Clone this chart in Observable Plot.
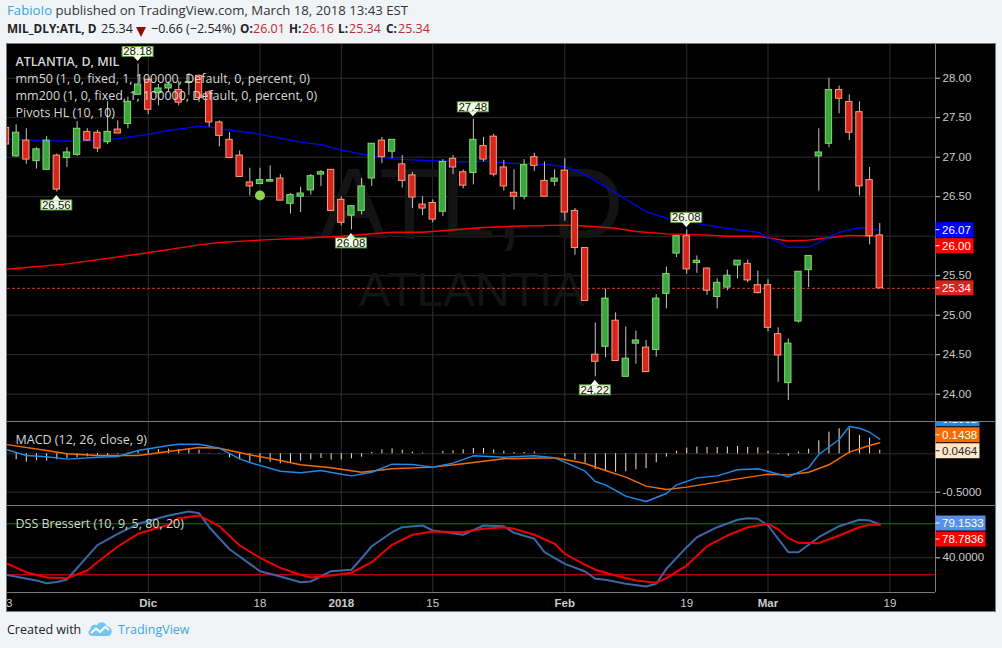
<!DOCTYPE html>
<html><head><meta charset="utf-8">
<script src="https://cdn.jsdelivr.net/npm/d3@7"></script>
<script src="https://cdn.jsdelivr.net/npm/@observablehq/plot@0.6"></script>
<style>
body{margin:0;background:#f1f4f7;width:1002px;height:648px;overflow:hidden;position:relative;font-family:"Open Sans",sans-serif}
.abs{position:absolute;white-space:nowrap}
.frame{position:absolute;left:6px;top:43px;width:988px;height:567px;border:1px solid #7a7a7a;background:#000}
.pane{position:absolute;left:7px;width:988px;overflow:hidden}
.pane svg{position:absolute;left:-7px;top:0;overflow:visible;max-width:none !important;width:1002px !important}
.sep{position:absolute;background:#7a7a7a}
.h2{position:absolute;top:20px;font-size:12.5px;line-height:17px;color:#222;white-space:nowrap}
.red{color:#c0282d}
</style></head><body>
<div class="abs" style="left:7px;top:1px;font-size:13.2px;line-height:18px;color:#333"><span style="color:#3aa3db">FabioIo</span> published on TradingView.com, March 18, 2018 13:43 EST</div>
<div class="h2" style="left:7px;font-weight:700;font-size:11.8px">MIL_DLY:ATL, D</div>
<div class="h2" style="left:101px">25.34</div>
<svg class="abs" style="left:136px;top:27px" width="10" height="10"><polygon points="0,0 10,0 5,10" fill="#8e0b0b"/></svg>
<div class="h2" style="left:151px">−0.66 (−2.54%)</div>
<div class="h2" style="left:240px;font-weight:700;font-size:11.8px">O:</div><div class="h2 red" style="left:253px">26.01</div>
<div class="h2" style="left:289px;font-weight:700;font-size:11.8px">H:</div><div class="h2 red" style="left:302px">26.16</div>
<div class="h2" style="left:338px;font-weight:700;font-size:11.8px">L:</div><div class="h2 red" style="left:349px">25.34</div>
<div class="h2" style="left:386px;font-weight:700;font-size:11.8px">C:</div><div class="h2 red" style="left:398px">25.34</div>

<div class="frame"></div>
<div class="sep" style="left:7px;top:421px;width:988px;height:1px"></div>
<div class="sep" style="left:7px;top:505px;width:988px;height:1px"></div>
<div class="sep" style="left:7px;top:592px;width:928px;height:1px"></div>
<div class="sep" style="left:935px;top:44px;width:1px;height:548px"></div>
<div class="pane" id="pPrice" style="top:44px;height:377px"></div>
<div class="pane" id="pMacd" style="top:422px;height:83px"></div>
<div class="pane" id="pDss" style="top:506px;height:104px"></div>

<div class="abs" style="left:7px;top:621px;font-size:12.5px;line-height:18px;color:#222">Created with</div>
<svg class="abs" style="left:87px;top:620px" width="26" height="17" viewBox="0 0 26 17">
<path d="M6 16 C1 16 0 11 3.5 9.5 C3 5 8 3.5 10 5.5 C11.5 1 19 1 19.5 6.5 C24 6.5 26 11 24 14 C23 15.5 22 16 20 16 Z" fill="#71c5ee"/>
<polyline points="4,13 9,8.5 13,12 18,7 22,10" fill="none" stroke="#fff" stroke-width="2"/>
</svg>
<div class="abs" style="left:118px;top:621px;font-size:12.5px;line-height:18px;color:#3ea5dc">TradingView</div>

<script>
// ---------- DATA ----------
const candleOpen  = [27.37,27.01,27.21,26.95,26.84,27.02,26.99,27.03,27.32,27.31,27.19,27.35,27.42,27.79,27.98,27.81,27.87,27.85,27.94,28.03,27.82,27.44,27.22,27.02,26.68,26.66,26.69,26.73,26.41,26.50,26.58,26.78,26.84,26.46,26.26,26.32,26.73,27.21,27.07,26.91,26.77,26.40,26.42,26.31,26.98,26.81,26.80,27.14,27.26,26.87,26.55,26.50,27.00,26.70,26.69,26.83,26.32,25.85,24.50,24.60,24.93,24.22,24.64,24.59,24.56,25.27,25.78,26.00,25.66,25.59,25.23,25.35,25.63,25.65,25.38,25.38,24.76,24.14,24.92,25.57,27.01,27.17,27.85,27.70,27.57,26.71,26.01];
const candleHigh  = [27.42,27.41,27.36,27.12,27.26,27.04,27.12,27.45,27.36,27.34,27.70,27.46,27.76,28.18,28.00,27.92,27.95,27.96,28.06,28.04,27.84,27.46,27.31,27.08,26.86,26.86,26.89,26.78,26.54,26.62,26.78,26.83,26.84,26.50,26.38,26.73,27.17,27.25,27.22,27.02,26.81,26.50,26.46,26.97,27.02,26.84,27.48,27.25,27.29,26.96,26.84,26.97,27.05,26.94,26.84,26.98,26.35,25.85,24.90,25.33,25.03,24.85,24.80,24.68,25.26,25.61,26.00,26.08,25.75,25.60,25.46,25.57,25.69,25.70,25.56,25.45,24.84,24.70,25.55,25.75,27.36,28.00,27.90,27.79,27.70,26.87,26.16];
const candleLow   = [27.10,27.00,26.91,26.85,26.84,26.56,26.87,27.01,27.20,27.06,27.16,27.30,27.36,27.78,27.54,27.65,27.83,27.65,27.78,27.69,27.38,27.13,26.99,26.75,26.51,26.66,26.69,26.45,26.28,26.30,26.52,26.63,26.31,26.13,26.08,26.27,26.63,26.92,26.98,26.61,26.35,26.26,26.17,26.25,26.78,26.60,26.65,26.94,26.75,26.57,26.33,26.46,26.82,26.50,26.63,26.19,25.76,25.18,24.22,24.46,24.42,24.22,24.38,24.28,24.47,25.08,25.73,25.52,25.53,25.25,25.08,25.31,25.46,25.41,25.27,24.79,24.15,23.92,24.90,25.35,26.57,27.12,27.55,27.21,26.51,25.89,25.34];
const candleClose = [27.16,27.31,26.97,27.10,27.21,26.59,27.06,27.36,27.21,27.11,27.32,27.30,27.70,27.92,27.60,27.87,27.92,27.69,27.95,27.75,27.44,27.27,26.99,26.75,26.63,26.71,26.71,26.45,26.52,26.54,26.76,26.81,26.32,26.17,26.38,26.63,27.17,27.00,27.22,26.70,26.49,26.35,26.21,26.94,26.87,26.64,27.22,26.97,26.78,26.63,26.50,26.90,26.89,26.50,26.73,26.30,25.85,25.18,24.41,25.21,24.42,24.45,24.68,24.28,25.21,25.52,26.00,25.58,25.69,25.31,25.41,25.50,25.69,25.44,25.28,24.84,24.49,24.64,25.55,25.75,27.06,27.85,27.74,27.31,26.63,26.00,25.34];

// moving averages [bar index, value]
const mm50  = [[0,27.23],[4,27.21],[7,27.20],[10,27.22],[14,27.29],[16,27.34],[19,27.39],[20,27.38],[25,27.29],[29,27.19],[31,27.16],[33,27.09],[35,27.04],[38,26.98],[41,26.96],[45,26.94],[47,26.95],[50,26.92],[53,26.91],[55,26.88],[57,26.78],[59,26.63],[61,26.47],[63,26.31],[65,26.23],[67,26.22],[68,26.16],[71,26.10],[74,26.05],[75,25.98],[77,25.86],[79,25.86],[80,25.92],[82,26.05],[84,26.11],[85,26.10],[86,26.07]];
const mm200 = [[0,25.58],[6,25.65],[14,25.79],[19,25.89],[21,25.92],[25,25.95],[33,26.00],[38,26.05],[41,26.05],[47,26.11],[51,26.13],[55,26.14],[57,26.13],[60,26.10],[62,26.06],[65,26.03],[68,26.02],[71,26.00],[74,26.00],[77,25.94],[79,25.95],[81,25.98],[83,26.01],[86,26.00]];

// pivots HL
const pivotIndex = [5,13,34,46,58,67];
const pivotValue = [26.56,28.18,26.08,27.48,24.22,26.08];
const pivotType  = ["low","high","low","high","low","high"];
const signalDots = [[25,26.515]];

// MACD (12,26,close,9)
const macdLine = [[0,0.056],[2,-0.022],[4,-0.039],[6,-0.07],[9,-0.044],[11,-0.035],[13,0.043],[16,0.108],[17,0.125],[19,0.125],[21,0.073],[23,-0.065],[24,-0.113],[27,-0.227],[29,-0.247],[31,-0.217],[33,-0.266],[34,-0.287],[36,-0.24],[38,-0.135],[40,-0.14],[42,-0.174],[44,-0.122],[46,-0.026],[49,-0.044],[52,-0.026],[54,-0.052],[55,-0.109],[57,-0.227],[58,-0.361],[59,-0.404],[61,-0.552],[63,-0.621],[65,-0.517],[66,-0.404],[68,-0.313],[70,-0.287],[72,-0.208],[74,-0.195],[75,-0.227],[77,-0.3],[79,-0.182],[80,-0.009],[82,0.186],[83,0.355],[84,0.333],[85,0.281],[86,0.1902]];
const macdSignal = [[0,0.121],[4,0.043],[6,0],[9,-0.022],[13,-0.022],[16,0.03],[19,0.082],[21,0.073],[24,-0.013],[27,-0.087],[29,-0.143],[32,-0.182],[35,-0.24],[38,-0.195],[42,-0.174],[45,-0.13],[49,-0.065],[54,-0.052],[55,-0.074],[57,-0.126],[59,-0.217],[61,-0.304],[63,-0.421],[65,-0.465],[67,-0.434],[70,-0.369],[72,-0.326],[75,-0.266],[77,-0.274],[79,-0.24],[81,-0.143],[83,0.021],[85,0.108],[86,0.1438]];
const macdHist = [-0.06,-0.078,-0.109,-0.091,-0.095,-0.078,-0.065,-0.052,-0.039,-0.03,-0.022,-0.009,0.01,0.043,0.052,0.056,0.06,0.056,0.065,0.048,0.005,-0.005,-0.052,-0.082,-0.109,-0.117,-0.109,-0.13,-0.122,-0.095,-0.082,-0.061,-0.082,-0.078,-0.065,-0.043,0.017,0.052,0.065,0.048,0.022,0.009,0.002,0.03,0.039,0.052,0.069,0.069,0.052,0.035,0.017,0.017,0.022,0.004,-0.002,-0.039,-0.082,-0.122,-0.204,-0.217,-0.239,-0.234,-0.208,-0.195,-0.117,-0.043,0.035,0.074,0.087,0.082,0.082,0.087,0.095,0.082,0.078,0.035,-0.013,-0.03,0.022,0.06,0.169,0.282,0.326,0.326,0.239,0.204,0.0464];

// DSS Bressert (10,9,5,80,20)
const dssLine = [[0,20],[3,13.3],[4,10.1],[5,11.5],[6,14.5],[7,28],[9,55],[11,68.2],[13,80],[16,89.8],[18,94.5],[19,92.5],[20,76],[22,50],[24,32.9],[25,24.2],[27,18],[29,11.3],[30,12.1],[32,24.2],[34,25.9],[35,39.5],[36,53.6],[38,70.1],[39,76],[41,78],[42,72.1],[45,67.1],[47,78],[49,77],[50,69.4],[52,62.4],[53,46.6],[55,32.9],[57,23.9],[58,15.3],[59,14.1],[61,9.4],[63,6.2],[64,9.4],[65,27.1],[67,52.5],[68,64.2],[70,76],[72,84.7],[73,86.6],[74,85.9],[75,78],[77,46.6],[78,46.6],[80,64.2],[82,77.2],[84,84.7],[85,83.9],[86,79.1533]];
const dssSignal = [[0,33.6],[2,23.1],[4,16.8],[6,16],[8,25.1],[9,34.8],[11,53.3],[13,68.2],[16,78.8],[17,86.6],[19,89.8],[21,77.2],[23,54.5],[25,40],[27,28.2],[29,20],[30,16.8],[32,19.2],[34,22.4],[36,34.8],[38,55.3],[40,67.1],[42,70.9],[45,70.1],[47,74.1],[49,76],[50,74.1],[52,67.1],[54,56.5],[55,44.7],[57,31.8],[58,26],[60,19.2],[62,13.3],[64,10.6],[65,16],[67,30.9],[69,53.6],[71,66.2],[73,76],[75,80],[76,73.3],[77,63.1],[78,57.6],[80,57.2],[82,66.2],[84,76],[85,78.8],[86,78.7836]];

// axes
const timeTickIndex = [0,14,25,33,42,55,67,75,87];
const timeTickLabel = ["13","Dic","18","2018","15","Feb","19","Mar","19"];
const timeTickBold  = [false,true,false,true,false,true,false,true,false];
const priceTicks = [24,24.5,25,25.5,26,26.5,27,27.5,28];
const priceLabelTicks = [24,24.5,25,25.5,26.5,27,27.5,28]; // 26.00 hidden under tags
const macdGrid = [-0.5,0];
const macdTicks = [-0.5];
const dssTicks = [40];
const lastClose = candleClose[candleClose.length-1];

// ---------- BUILD ----------
const GRID = "#2e2e2e";
const AX = "Liberation Sans, Arial, sans-serif";
const LEG = "Open Sans, sans-serif";
const X = {domain:[0,87], range:[5.5,889.42], axis:null};
const base = (h, mb) => ({width:1002, height:h, marginLeft:7, marginRight:67, marginTop:0, marginBottom:mb,
  style:{background:"transparent", color:"#cccccc", fontFamily:AX, fontSize:"11px", overflow:"visible"}});
const candles = candleOpen.map((o,i)=>({i, o, h:candleHigh[i], l:candleLow[i], c:candleClose[i]}));
const up = candles.filter(d=>d.c>=d.o), down = candles.filter(d=>d.c<d.o);
const ticksT = timeTickIndex.map((i,k)=>({i, label:timeTickLabel[k], bold:timeTickBold[k]}));
const legend = (t, dy, bold) => Plot.text([t], {text:d=>d, frameAnchor:"top-left", textAnchor:"start", lineAnchor:"bottom", dx:8, dy, fill:"#d6d6d6", fontSize:12.5, fontFamily:LEG, fontWeight: bold?600:400});

const price = Plot.plot({...base(377,0),
  x:X, y:{domain:[24,28], range:[349.7,33.7], axis:null},
  marks:[
    Plot.gridX(timeTickIndex, {stroke:GRID, strokeOpacity:1}),
    Plot.gridY(priceTicks, {stroke:GRID, strokeOpacity:1}),
    Plot.text(["ATL, D"], {text:d=>d, frameAnchor:"middle", lineAnchor:"bottom", dy:4.5, fontSize:100, fill:"#141414", fontFamily:AX}),
    Plot.text(["ATLANTIA"], {text:d=>d, frameAnchor:"middle", lineAnchor:"bottom", dy:72.5, fontSize:48, fill:"#141414", fontFamily:AX}),
    Plot.ruleY([lastClose], {stroke:"#e0302a", strokeDasharray:"3,2", strokeWidth:1}),
    Plot.line(mm200, {x:d=>d[0], y:d=>d[1], stroke:"#ff0000", strokeWidth:1.4, clip:true}),
    Plot.line(mm50, {x:d=>d[0], y:d=>d[1], stroke:"#0000ff", strokeWidth:1.3, clip:true}),
    Plot.ruleX(candles, {x:"i", y1:"l", y2:"h", stroke:"#c4c4c4", strokeWidth:1, clip:true}),
    Plot.rect(up, {x1:d=>d.i-0.31, x2:d=>d.i+0.31, y1:"o", y2:"c", fill:"#3da443", stroke:"#80dc68", strokeWidth:1, clip:true}),
    Plot.rect(down, {x1:d=>d.i-0.31, x2:d=>d.i+0.31, y1:"o", y2:"c", fill:"#d6241e", stroke:"#f6a17b", strokeWidth:1, clip:true}),
    Plot.dot(signalDots, {x:d=>d[0], y:d=>d[1], r:5, fill:"#8fd24f", stroke:"none"}),
    Plot.axisY(priceLabelTicks, {anchor:"right", tickSize:4, tickPadding:3, tickFormat:d=>d.toFixed(2), color:"#cccccc", fontSize:11.5}),
    legend("ATLANTIA, D, MIL", 21, true),
    legend("mm50 (1, 0, fixed, 1, 100000, Default, 0, percent, 0)", 38),
    legend("mm200 (1, 0, fixed, 1, 100000, Default, 0, percent, 0)", 55),
    legend("Pivots HL (10, 10)", 72)
  ]});

const macd = Plot.plot({...base(83,0),
  x:X, y:{domain:[-0.5,0], range:[69.7,31.3], axis:null},
  marks:[
    Plot.gridX(timeTickIndex, {stroke:GRID, strokeOpacity:1}),
    Plot.gridY(macdGrid, {stroke:GRID, strokeOpacity:1}),
    Plot.ruleX(macdHist.map((v,i)=>[i,v]), {x:d=>d[0], y1:0, y2:d=>d[1], stroke:"#ffe2c4", strokeWidth:1, clip:true}),
    Plot.line(macdSignal, {x:d=>d[0], y:d=>d[1], stroke:"#f26c00", strokeWidth:1.4, clip:true}),
    Plot.line(macdLine, {x:d=>d[0], y:d=>d[1], stroke:"#1f8ae8", strokeWidth:1.4, clip:true}),
    Plot.axisY(macdTicks, {anchor:"right", tickSize:4, tickPadding:3, tickFormat:d=>d.toFixed(4), color:"#cccccc", fontSize:11.5}),
    legend("MACD (12, 26, close, 9)", 21.5)
  ]});

const dss = Plot.plot({...base(104,18),
  x:X, y:{domain:[0,100], range:[85.3,0.3], axis:null},
  marks:[
    Plot.gridX(timeTickIndex, {stroke:GRID, strokeOpacity:1}),
    Plot.gridY([40], {stroke:GRID, strokeOpacity:1}),
    Plot.ruleY([80], {stroke:"#008000", strokeWidth:1}),
    Plot.ruleY([20], {stroke:"#ff0000", strokeWidth:1}),
    Plot.line(dssLine, {x:d=>d[0], y:d=>d[1], stroke:"#3b67a6", strokeWidth:2, clip:true}),
    Plot.line(dssSignal, {x:d=>d[0], y:d=>d[1], stroke:"#ee0000", strokeWidth:2, clip:true}),
    Plot.axisY(dssTicks, {anchor:"right", tickSize:4, tickPadding:3, tickFormat:d=>d.toFixed(4), color:"#cccccc", fontSize:11.5}),
    Plot.text(ticksT.filter(d=>!d.bold), {x:"i", text:"label", frameAnchor:"bottom", lineAnchor:"bottom", dy:14.5, fill:"#cccccc", fontSize:11.5, fontFamily:AX}),
    Plot.text(ticksT.filter(d=>d.bold), {x:"i", text:"label", frameAnchor:"bottom", lineAnchor:"bottom", dy:14.5, fill:"#cccccc", fontSize:11.5, fontWeight:700, fontFamily:AX}),
    legend("DSS Bressert (10, 9, 5, 80, 20)", 21.5)
  ]});

document.getElementById("pPrice").appendChild(price);
document.getElementById("pMacd").appendChild(macd);
document.getElementById("pDss").appendChild(dss);

// pivot labels
(function(){
  const sx = price.scale("x"), sy = price.scale("y"), g = d3.select(price).append("g");
  pivotIndex.forEach((idx,k)=>{
    const cx = sx.apply(idx), py = sy.apply(pivotValue[k]), w = 31, h = 10;
    let tip, top, pts;
    if (pivotType[k]==="high") { tip = py-2.5; top = tip-4.5-h; pts = [[cx-4.5,tip-5],[cx+4.5,tip-5],[cx,tip]]; }
    else { tip = py+3.5; top = tip+5; pts = [[cx-4.5,tip+5.5],[cx+4.5,tip+5.5],[cx,tip]]; }
    g.append("rect").attr("x",cx-w/2).attr("y",top).attr("width",w).attr("height",h).attr("fill","#f4fde6").attr("stroke","#5b9f33");
    g.append("polygon").attr("points",pts.map(p=>p.join(",")).join(" ")).attr("fill","#f4fde6");
    g.append("text").attr("x",cx).attr("y",top+h-1.2).attr("text-anchor","middle").attr("font-size","11.5px").attr("font-family",AX).attr("fill","#111").text(pivotValue[k].toFixed(2));
  });
})();

// axis tags
function tags(svg, list, w, dir){
  const sy = svg.scale("y"), g = d3.select(svg).append("g").attr("text-anchor","start"), H = 15;
  let prev = null;
  const items = list.map(t=>({...t, c: sy.apply(t.v)+ (t.off||0)}));
  if (dir==="down") { items.sort((a,b)=>a.c-b.c); items.forEach(it=>{ if(prev!==null && it.c-H/2 < prev+1) it.c = prev+1+H/2; prev = it.c+H/2; }); }
  else { items.sort((a,b)=>b.c-a.c); items.forEach(it=>{ if(prev!==null && it.c+H/2 > prev-1) it.c = prev-1-H/2; prev = it.c-H/2; }); }
  items.forEach(it=>{
    g.append("rect").attr("x",935.5).attr("y",it.c-H/2).attr("width",w).attr("height",H).attr("fill",it.bg);
    g.append("line").attr("x1",935.5).attr("x2",939.5).attr("y1",it.c).attr("y2",it.c).attr("stroke",it.fg);
    g.append("text").attr("x",942).attr("y",it.c+4.2).attr("text-anchor","start").attr("font-size","11.5px").attr("font-family",AX).attr("fill",it.fg).text(it.label);
  });
}
tags(price, [
  {v:mm50[mm50.length-1][1], label:"26.07", bg:"#0000ff", fg:"#fff", off:-0.5},
  {v:mm200[mm200.length-1][1], label:"26.00", bg:"#ff0000", fg:"#fff"},
  {v:lastClose, label:"25.34", bg:"#d6241e", fg:"#fff"}], 38, "down");
tags(macd, [
  {v:macdLine[macdLine.length-1][1], label:"0.1902", bg:"#1f8ae8", fg:"#fff"},
  {v:macdSignal[macdSignal.length-1][1], label:"0.1438", bg:"#f96a00", fg:"#fff"},
  {v:macdHist[macdHist.length-1], label:"0.0464", bg:"#ffe6cf", fg:"#222", off:1}], 44, "up");
tags(dss, [
  {v:dssLine[dssLine.length-1][1], label:"79.1533", bg:"#5a8fe6", fg:"#fff", off:-1},
  {v:dssSignal[dssSignal.length-1][1], label:"78.7836", bg:"#ff0000", fg:"#fff"}], 50, "down");
</script>
</body></html>
